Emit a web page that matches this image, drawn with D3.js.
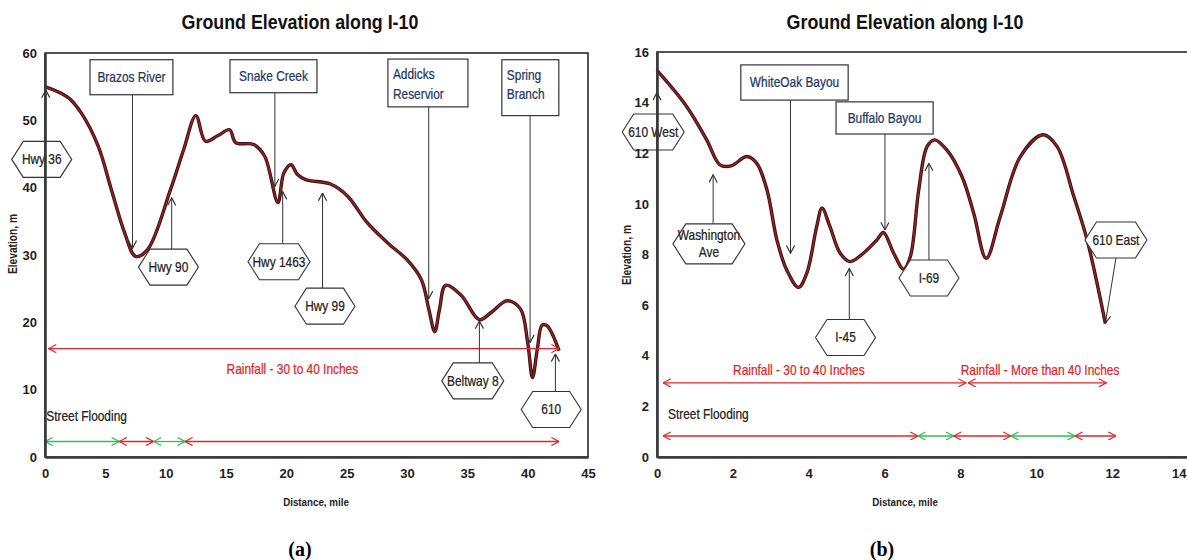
<!DOCTYPE html>
<html>
<head>
<meta charset="utf-8">
<script src="https://cdn.jsdelivr.net/npm/d3@7"></script>
<style>
  body { margin: 0; background: #fff; }
  text { font-family: 'Liberation Sans', Arial, sans-serif; }
</style>
</head>
<body>
<div class="chart"></div>
<script>
// ---- panel (a) : ground profile, miles vs metres ----
var distA = [0, 1.9, 3.0, 4.4, 5.5, 6.6, 7.5, 8.5, 10.4, 11.5, 12.5, 13.3, 14.3, 15.3, 15.8, 17.3, 18.2, 19.3, 19.8, 20.4, 20.9, 21.6, 23.7, 25.1, 26.7, 28.4, 30.0, 31.2, 31.8, 32.3, 32.7, 33.2, 34.5, 36.0, 37.0, 38.3, 39.4, 40.0, 40.4, 40.8, 41.2, 41.6, 42.6];
var elevA = [55, 53.4, 51.1, 46.2, 39.7, 33.3, 29.8, 30.8, 39.7, 45.7, 50.7, 46.9, 47.7, 48.6, 46.7, 46.4, 44.7, 37.8, 42.2, 43.4, 42.0, 41.2, 40.5, 38.7, 34.8, 31.8, 29.3, 26.3, 22.0, 18.6, 22.0, 25.5, 24.0, 20.4, 21.5, 23.2, 22.0, 17.0, 11.8, 16.0, 19.6, 19.5, 15.8];

// ---- panel (b) ----
var distB = [0, 0.78, 1.31, 1.66, 1.95, 2.37, 2.63, 2.9, 3.16, 3.42, 3.73, 3.95, 4.21, 4.35, 4.56, 4.83, 5.09, 5.44, 5.8, 5.97, 6.24, 6.5, 6.68, 6.9, 7.12, 7.32, 7.64, 8.04, 8.35, 8.68, 9.05, 9.58, 10.18, 10.55, 10.99, 11.34, 11.82];
var elevB = [15.27, 13.85, 12.53, 11.54, 11.5, 11.87, 11.6, 10.55, 8.58, 7.39, 6.7, 7.26, 9.1, 9.83, 9.1, 8.05, 7.72, 8.05, 8.58, 8.87, 8.05, 7.42, 7.92, 10.55, 12.26, 12.53, 12.13, 11.08, 9.63, 7.85, 9.5, 11.87, 12.73, 12.26, 10.29, 8.58, 5.28];

// tick labels
var xTicksA = [0, 5, 10, 15, 20, 25, 30, 35, 40, 45];
var yTicksA = [0, 10, 20, 30, 40, 50, 60];
var xTicksB = [0, 2, 4, 6, 8, 10, 12, 14];
var yTicksB = [0, 2, 4, 6, 8, 10, 12, 14, 16];

// water crossings: box corners [x0, x1, yTop, yBottom] and arrow tip [x, y], in chart units
var riversA = [
  {label: ["Brazos River"], box: [3.73, 10.6, 59.0, 53.8], tip: [7.25, 31.0], align: "middle"},
  {label: ["Snake Creek"], box: [15.33, 22.54, 59.0, 54.1], tip: [19.05, 40.2], align: "middle"},
  {label: ["Addicks", "Reservior"], box: [28.42, 35.05, 59.1, 52.0], tip: [31.8, 23.5], align: "start"},
  {label: ["Spring", "Branch"], box: [37.86, 42.58, 59.0, 50.7], tip: [40.2, 17.0], align: "start"}
];
var riversB = [
  {label: ["WhiteOak Bayou"], box: [2.21, 5.04, 15.49, 14.1], tip: [3.52, 8.05], align: "middle"},
  {label: ["Buffalo Bayou"], box: [4.72, 7.28, 14.03, 12.76], tip: [6.01, 8.97], align: "middle"}
];

// highway crossings: hexagon centre [x, y] and arrow tip [x, y]
var roadsA = [
  {label: ["Hwy 36"], at: [-0.27, 44.2], tip: [0.06, 54.5]},
  {label: ["Hwy 90"], at: [10.23, 28.2], tip: [10.5, 38.5]},
  {label: ["Hwy 1463"], at: [19.39, 29.0], tip: [19.7, 39.4]},
  {label: ["Hwy 99"], at: [23.2, 22.4], tip: [23.0, 39.2]},
  {label: ["Beltway 8"], at: [35.45, 11.3], tip: [36.0, 20.2]},
  {label: ["610"], at: [41.95, 7.05], tip: [42.3, 15.3]}
];
var roadsB = [
  {label: ["610 West"], at: [-0.1, 12.84], tip: [0, 14.4]},
  {label: ["Washington", "Ave"], at: [1.37, 8.42], tip: [1.48, 11.15]},
  {label: ["I-45"], at: [4.97, 4.72], tip: [5.07, 7.45]},
  {label: ["I-69"], at: [7.17, 7.07], tip: [7.17, 11.6]},
  {label: ["610 East"], at: [12.1, 8.57], tip: [11.82, 5.28], down: true}
];

// rainfall bands [from, to, label, label centre] and street flooding spans [from, to, flooded?]
var rainA = [[0.3, 42.6, "Rainfall - 30 to 40  Inches", 20.5]];
var rainB = [[0.16, 8.15, "Rainfall - 30 to 40  Inches", 3.74], [8.2, 11.85, "Rainfall - More than 40  Inches", 10.1]];
var floodA = [[0, 6.15, 0], [6.15, 9.0, 1], [9.0, 11.6, 0], [11.6, 42.6, 1]];
var floodB = [[0.16, 6.88, 1], [6.88, 7.82, 0], [7.82, 9.33, 1], [9.33, 11.02, 0], [11.02, 12.1, 1]];

var RED = "#e0262b", GREEN = "#2fbf55", NAVY = "#1f3864", INK = "#222";
var NARROW = 0.85;  // squeeze Liberation Sans toward a Calibri-like width

var svg = d3.select(".chart").append("svg")
  .attr("width", 1187)
  .attr("height", 560);

var defs = svg.append("defs");
function marker(id, color) {
  defs.append("marker")
    .attr("id", id)
    .attr("viewBox", "0 0 10 10")
    .attr("refX", 9.5).attr("refY", 5)
    .attr("markerWidth", 9).attr("markerHeight", 9)
    .attr("markerUnits", "userSpaceOnUse")
    .attr("orient", "auto-start-reverse")
    .append("path")
    .attr("d", "M1,0.5 L9.5,5 L1,9.5")
    .attr("fill", "none")
    .attr("stroke", color)
    .attr("stroke-width", 1.3);
}
marker("arBlack", "#333");
marker("arRed", RED);
marker("arGreen", GREEN);

// narrow text: a text element inside a squeezed group, lines as tspans
function ntext(parent, x, y, lines, size, anchor, color, lineGap, rotate) {
  var t = parent.append("g")
    .attr("transform", `translate(${x},${y})` + (rotate ? ` rotate(${rotate})` : "") + ` scale(${NARROW},1)`)
    .append("text")
    .attr("text-anchor", anchor)
    .style("font-size", size + "px")
    .attr("fill", color)
    .attr("stroke", color)
    .attr("stroke-width", 0.25);
  lines.forEach(function (s, i) {
    t.append("tspan")
      .attr("x", 0)
      .attr("dy", i === 0 ? "0.35em" : lineGap)
      .text(s);
  });
  return t;
}

function hexPath(cx, cy, w, h) {
  var d = h * 0.32;
  return "M" + (cx - w / 2) + "," + cy +
    "L" + (cx - w / 2 + d) + "," + (cy - h / 2) +
    "L" + (cx + w / 2 - d) + "," + (cy - h / 2) +
    "L" + (cx + w / 2) + "," + cy +
    "L" + (cx + w / 2 - d) + "," + (cy + h / 2) +
    "L" + (cx - w / 2 + d) + "," + (cy + h / 2) + "Z";
}

function drawPanel(p) {
  var x = d3.scaleLinear().domain(p.xDomain).range(p.xRange);
  var y = d3.scaleLinear().domain(p.yDomain).range(p.yRange);
  var g = svg.append("g");

  // title
  ntext(g, p.titleX, 22, ["Ground Elevation along I-10"], 21, "middle", "#111")
    .style("font-weight", "bold").attr("stroke-width", 0);

  // elevation profile
  var line = d3.line()
    .x(d => x(d[0]))
    .y(d => y(d[1]))
    .curve(d3.curveCatmullRom.alpha(0.5));
  var pts = d3.zip(p.dist, p.elev);
  g.append("path").datum(pts).attr("d", line)
    .attr("fill", "none").attr("stroke", "#3d0c0c").attr("stroke-width", 3.4);
  g.append("path").datum(pts).attr("d", line)
    .attr("fill", "none").attr("stroke", "#8a2626").attr("stroke-width", 1.6);

  // rainfall bands
  p.rain.forEach(function (r) {
    g.append("line")
      .attr("x1", x(r[0])).attr("x2", x(r[1]))
      .attr("y1", y(p.rainY)).attr("y2", y(p.rainY))
      .attr("stroke", RED).attr("stroke-width", 1.3)
      .attr("marker-start", "url(#arRed)").attr("marker-end", "url(#arRed)");
    ntext(g, x(r[3]), y(p.rainTextY), [r[2]], 14, "middle", RED);
  });

  // street flooding spans
  ntext(g, x(p.floodTextX), y(p.floodTextY), ["Street Flooding"], 14, "start", INK);
  p.flood.forEach(function (f) {
    var c = f[2] ? RED : GREEN;
    var m = f[2] ? "url(#arRed)" : "url(#arGreen)";
    g.append("line")
      .attr("x1", x(f[0])).attr("x2", x(f[1]))
      .attr("y1", y(p.floodY)).attr("y2", y(p.floodY))
      .attr("stroke", c).attr("stroke-width", 1.3)
      .attr("marker-start", m).attr("marker-end", m);
  });

  // creek / bayou boxes with arrows down to the profile
  p.rivers.forEach(function (r) {
    var bx0 = x(r.box[0]), bx1 = x(r.box[1]), by0 = y(r.box[2]), by1 = y(r.box[3]);
    g.append("line")
      .attr("x1", x(r.tip[0])).attr("x2", x(r.tip[0]))
      .attr("y1", by1).attr("y2", y(r.tip[1]))
      .attr("stroke", "#333").attr("stroke-width", 1)
      .attr("marker-end", "url(#arBlack)");
    g.append("rect")
      .attr("x", bx0).attr("y", by0)
      .attr("width", bx1 - bx0).attr("height", by1 - by0)
      .attr("fill", "#fff").attr("stroke", "#333").attr("stroke-width", 1.2);
    var tx = r.align === "start" ? bx0 + 5 : (bx0 + bx1) / 2;
    var ty = r.label.length === 1 ? (by0 + by1) / 2 : by0 + 15;
    ntext(g, tx, ty, r.label, 14, r.align, NAVY, "1.4em");
  });

  // highway hexagons with arrows up to the profile
  p.roads.forEach(function (r) {
    var cx = x(r.at[0]), cy = y(r.at[1]);
    var w = r.label.length > 1 ? 72 : (r.label[0].length > 6 ? 62 : 60);
    var h = r.label.length > 1 ? 40 : 36;
    if (r.down) {
      g.append("line")
        .attr("x1", cx).attr("y1", cy + h / 2)
        .attr("x2", x(r.tip[0])).attr("y2", y(r.tip[1]))
        .attr("stroke", "#333").attr("stroke-width", 1)
        .attr("marker-end", "url(#arBlack)");
    } else {
      g.append("line")
        .attr("x1", x(r.tip[0])).attr("x2", x(r.tip[0]))
        .attr("y1", cy - h / 2).attr("y2", y(r.tip[1]))
        .attr("stroke", "#333").attr("stroke-width", 1)
        .attr("marker-end", "url(#arBlack)");
    }
    g.append("path")
      .attr("d", hexPath(cx, cy, w, h))
      .attr("fill", "#fff").attr("stroke", "#333").attr("stroke-width", 1.1);
    ntext(g, cx, cy - (r.label.length - 1) * 8.5, r.label, 14, "middle", INK, "1.2em");
  });

  // frame and axes
  g.append("rect")
    .attr("x", p.xRange[0]).attr("y", p.yRange[1])
    .attr("width", p.xRange[1] - p.xRange[0])
    .attr("height", p.yRange[0] - p.yRange[1])
    .attr("fill", "none").attr("stroke", "#1a1a1a").attr("stroke-width", 1.5);

  var leftAxis = d3.axisLeft(y).tickValues(p.yTicks).tickSize(0).tickPadding(8);
  var bottomAxis = d3.axisBottom(x).tickValues(p.xTicks).tickSize(0).tickPadding(12);

  var ya = g.append("g").attr("transform", `translate(${p.xRange[0]},0)`).call(leftAxis);
  var xa = g.append("g").attr("transform", `translate(0,${p.yRange[0]})`).call(bottomAxis);
  [ya, xa].forEach(function (a) {
    a.select(".domain").attr("stroke", "#3a3a3a").attr("stroke-width", 2.6);
    a.selectAll("text")
      .style("font-size", "13px").style("font-weight", "bold")
      .attr("fill", INK);
  });
  // the last x label sits on the page edge: keep it inside
  xa.selectAll(".tick text")
    .filter(d => x(d) > 1170)
    .attr("text-anchor", "end")
    .attr("x", d => 1186 - x(d));

  // axis titles
  ntext(g, p.yLabelX, p.yLabelY, ["Elevation, m"], 12, "middle", INK, null, -90)
    .style("font-weight", "bold").attr("stroke-width", 0);
  ntext(g, p.xLabelX, 502, ["Distance, mile"], 11.5, "middle", INK)
    .style("font-weight", "bold").attr("stroke-width", 0);

  // panel letter
  g.append("text")
    .attr("x", p.letterX).attr("y", 556)
    .attr("text-anchor", "middle")
    .style("font-family", "'Liberation Serif', 'Times New Roman', serif")
    .style("font-size", "20px").style("font-weight", "bold")
    .attr("fill", "#000")
    .text(p.letter);
}

drawPanel({
  dist: distA, elev: elevA,
  xDomain: [0, 45], xRange: [45, 588],
  yDomain: [0, 60], yRange: [457, 53],
  xTicks: xTicksA, yTicks: yTicksA,
  rivers: riversA, roads: roadsA,
  rain: rainA, rainY: 16.1, rainTextY: 13.1,
  flood: floodA, floodY: 2.3, floodTextX: 0.1, floodTextY: 6.1,
  titleX: 300, yLabelX: 13, yLabelY: 244, xLabelX: 316,
  letter: "(a)", letterX: 300
});

drawPanel({
  dist: distB, elev: elevB,
  xDomain: [0, 14], xRange: [657, 1188],
  yDomain: [0, 16], yRange: [457, 52],
  xTicks: xTicksB, yTicks: yTicksB,
  rivers: riversB, roads: roadsB,
  rain: rainB, rainY: 2.93, rainTextY: 3.45,
  flood: floodB, floodY: 0.83, floodTextX: 0.29, floodTextY: 1.71,
  titleX: 905, yLabelX: 627, yLabelY: 255, xLabelX: 905,
  letter: "(b)", letterX: 882
});
</script>
</body>
</html>
